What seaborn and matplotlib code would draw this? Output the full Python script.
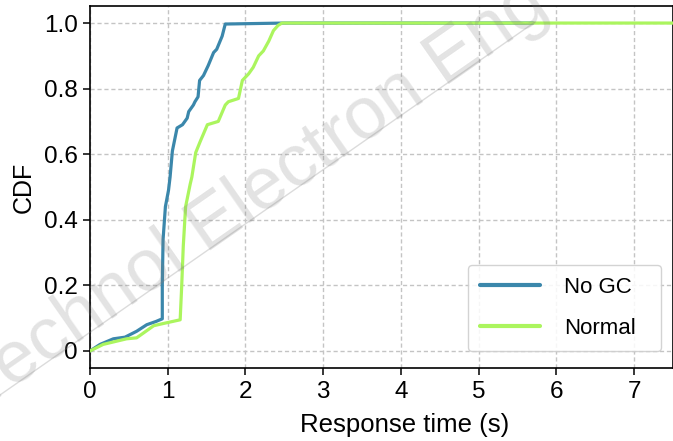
import numpy as np
import pandas as pd
import matplotlib
matplotlib.use("Agg")
import matplotlib.pyplot as plt
from matplotlib.lines import Line2D
import seaborn as sns

# ---- data ----
series_names = ["No GC", "Normal"]

nogc_x = [0, 0.13, 0.30, 0.45, 0.60, 0.73, 0.85, 0.93, 0.93, 0.94, 0.97, 1.01, 1.03, 1.06,
          1.12, 1.19, 1.25, 1.27, 1.33, 1.35, 1.39, 1.41, 1.46, 1.52, 1.59, 1.63, 1.70, 1.74,
          2.50, 5.70]
nogc_y = [0, 0.020, 0.037, 0.042, 0.060, 0.080, 0.090, 0.098, 0.20, 0.34, 0.44, 0.49, 0.53, 0.61,
          0.68, 0.69, 0.71, 0.73, 0.75, 0.76, 0.775, 0.825, 0.84, 0.87, 0.91, 0.92, 0.96, 0.997,
          1.0, 1.0]

normal_x = [0, 0.17, 0.47, 0.60, 0.82, 0.93, 1.16, 1.18, 1.20, 1.23, 1.29, 1.31, 1.36, 1.42,
            1.51, 1.65, 1.74, 1.78, 1.91, 1.96, 2.04, 2.10, 2.17, 2.23, 2.30, 2.36, 2.42, 2.47,
            7.60]
normal_y = [0, 0.020, 0.037, 0.040, 0.077, 0.083, 0.095, 0.20, 0.32, 0.44, 0.51, 0.53, 0.605, 0.64,
            0.69, 0.70, 0.75, 0.76, 0.77, 0.825, 0.845, 0.865, 0.90, 0.915, 0.945, 0.977, 0.993, 1.0,
            1.0]

x_ticks = [0, 1, 2, 3, 4, 5, 6, 7]
x_tick_labels = ["0", "1", "2", "3", "4", "5", "6", "7"]
y_ticks = [0, 0.2, 0.4, 0.6, 0.8, 1.0]
y_tick_labels = ["0", "0.2", "0.4", "0.6", "0.8", "1.0"]

x_label = "Response time (s)"
y_label = "CDF"
watermark = "Front Inform Technol Electron Eng"

# ---- styling ----
sns.set_theme(style="ticks")
plt.rcParams["font.family"] = ["Liberation Sans", "DejaVu Sans"]
plt.rcParams.update({"text.color": "black", "axes.labelcolor": "black",
                     "xtick.color": "black", "ytick.color": "black"})

W, H = 673, 441
fig = plt.figure(figsize=(W / 100, H / 100), dpi=100)
ax = fig.add_axes([90 / W, 73 / H, 583 / W, 362 / H])

df = pd.concat([
    pd.DataFrame({"x": nogc_x, "y": nogc_y, "series": series_names[0]}),
    pd.DataFrame({"x": normal_x, "y": normal_y, "series": series_names[1]}),
], ignore_index=True)

palette = {series_names[0]: "#3b87ab", series_names[1]: "#abf55e"}
sns.lineplot(data=df, x="x", y="y", hue="series", palette=palette, estimator=None,
             sort=False, linewidth=2.3, ax=ax, legend=False, zorder=3)

ax.set_xlim(0, 7.5)
ax.set_ylim(-0.052, 1.052)
ax.set_xticks(x_ticks)
ax.set_xticklabels(x_tick_labels)
ax.set_yticks(y_ticks)
ax.set_yticklabels(y_tick_labels)
ax.tick_params(axis="both", direction="out", length=5, width=1.1, colors="black",
               labelsize=17.5, pad=4)
ax.grid(True, linestyle=(0, (3, 2)), color="#c4c4c4", linewidth=1.0)
ax.set_axisbelow(True)
for s in ax.spines.values():
    s.set_color("black")
    s.set_linewidth(1.2)

ax.set_xlabel(x_label, fontsize=18.5)
ax.xaxis.set_label_coords((405 - 90) / 583, -0.125)
ax.set_ylabel(y_label, fontsize=18, labelpad=6)

handles = [Line2D([0], [0], color=palette[n], lw=3.0) for n in series_names]
leg = ax.legend(handles, series_names, loc="lower left",
                bbox_to_anchor=((468 - 90) / 583, 17 / 362, 193 / 583, 0.3),
                mode="expand", borderaxespad=0, fontsize=16, handlelength=2.7,
                handletextpad=1.05, labelspacing=0.87, borderpad=0.56,
                frameon=True, fancybox=True, framealpha=0.85, edgecolor="#cccccc")
leg.get_frame().set_linewidth(1.0)

# ---- watermark ----
ang = np.degrees(np.arctan2(373, 535))
fig.text(552 / W, 428 / H, watermark, rotation=ang, rotation_mode="anchor",
         ha="right", va="baseline", fontsize=53, color="#808080", alpha=0.22, zorder=10)
fig.add_artist(Line2D([0, 535 / W], [46 / H, 419 / H], transform=fig.transFigure,
                      color="#808080", alpha=0.28, lw=1.0, zorder=10))

fig.savefig("out.png", dpi=100)
